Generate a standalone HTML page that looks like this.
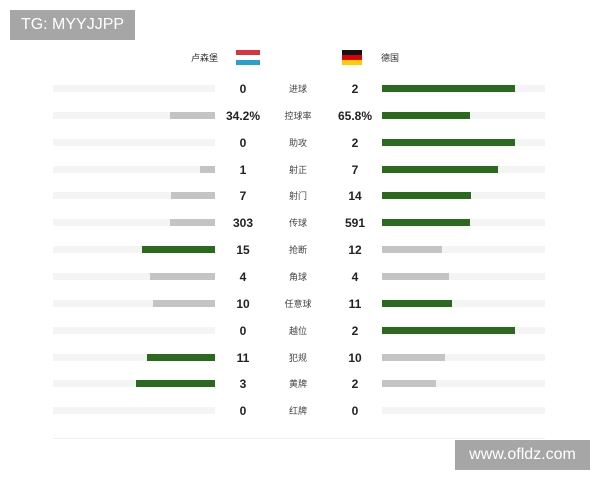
<!DOCTYPE html><html><head><style>
body{margin:0;width:600px;height:480px;background:#fff;position:relative;font-family:"Liberation Sans","Noto Sans CJK SC",sans-serif;overflow:hidden}
.a{position:absolute}
.t{position:absolute;height:7px;background:#f4f4f4}
.b{position:absolute;height:7px}
.n{position:absolute;font-size:12px;font-weight:bold;color:#222;text-align:center;width:60px}
.l{position:absolute;font-size:9px;color:#444;text-align:center;width:50px}
</style></head><body>
<div class="a" style="left:10px;top:10px;width:125px;height:30px;background:#a6a6a6;color:#fff;font-size:16px;line-height:30px;text-align:center">TG: MYYJJPP</div>
<div class="a" style="left:455px;top:440px;width:135px;height:30px;background:#a6a6a6;color:#fff;font-size:16px;line-height:30px;text-align:center">www.ofldz.com</div>
<div class="a" style="left:170px;top:51px;width:48px;text-align:right;font-size:9px;color:#333">卢森堡</div>
<div class="a" style="left:236px;top:50px;width:24px;height:5px;background:#d9333f"></div>
<div class="a" style="left:236px;top:55px;width:24px;height:5px;background:#fff"></div>
<div class="a" style="left:236px;top:60px;width:24px;height:5px;background:#2aa0d0"></div>
<div class="a" style="left:342px;top:50px;width:20px;height:5px;background:#111"></div>
<div class="a" style="left:342px;top:55px;width:20px;height:5px;background:#d00"></div>
<div class="a" style="left:342px;top:60px;width:20px;height:5px;background:#fc0"></div>
<div class="a" style="left:381px;top:51px;font-size:9px;color:#333">德国</div>
<div class="a" style="left:53px;top:438px;width:492px;height:1px;background:#f2f2f2"></div>
<div id="rows"></div>
<script>
var d=[["0","进球","2",215,215,515],["34.2%","控球率","65.8%",170,215,470],["0","助攻","2",215,215,515],["1","射正","7",200,215,498],["7","射门","14",171,215,471],["303","传球","591",170,215,470],["15","抢断","12",142,215,442],["4","角球","4",150,215,449],["10","任意球","11",153,215,452],["0","越位","2",215,215,515],["11","犯规","10",147,215,445],["3","黄牌","2",136,215,436],["0","红牌","0",215,215,382]];
var G="#2a6a1f",S="#c4c4c4",h="";
d.forEach(function(r,i){var y=89+i*26.85;
var lv=parseFloat(r[0]),rv=parseFloat(r[2]);
var lc=lv>rv?G:S,rc=rv>lv?G:S;
h+='<div class="t" style="left:53px;width:162px;top:'+(y-4)+'px"></div>';
h+='<div class="t" style="left:382px;width:163px;top:'+(y-4)+'px"></div>';
if(r[3]<215)h+='<div class="b" style="left:'+r[3]+'px;width:'+(215-r[3])+'px;top:'+(y-4)+'px;background:'+lc+'"></div>';
if(r[5]>382)h+='<div class="b" style="left:382px;width:'+(r[5]-382)+'px;top:'+(y-4)+'px;background:'+rc+'"></div>';
h+='<div class="n" style="left:213px;top:'+(y-7)+'px">'+r[0]+'</div>';
h+='<div class="n" style="left:325px;top:'+(y-7)+'px">'+r[2]+'</div>';
h+='<div class="l" style="left:273px;top:'+(y-7)+'px">'+r[1]+'</div>';});
document.getElementById("rows").innerHTML=h;
</script>
</body></html>
